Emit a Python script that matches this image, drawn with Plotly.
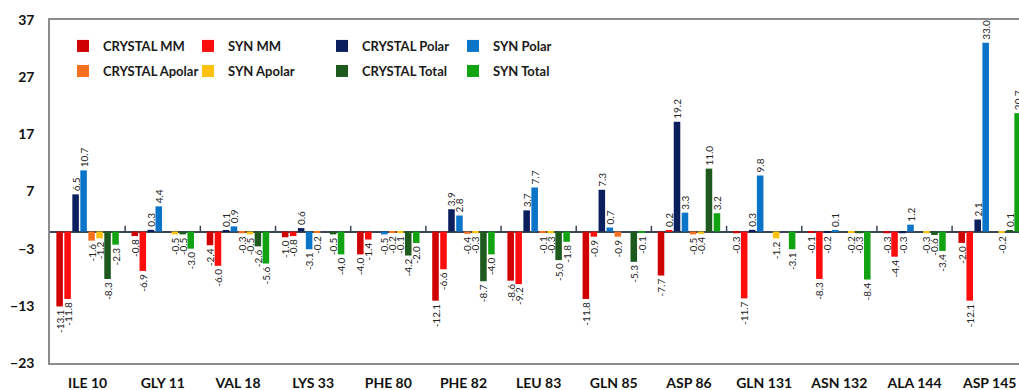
import plotly.graph_objects as go

# Residues along the category axis
categories = ["ILE 10", "GLY 11", "VAL 18", "LYS 33", "PHE 80", "PHE 82", "LEU 83",
              "GLN 85", "ASP 86", "GLN 131", "ASN 132", "ALA 144", "ASP 145"]

# Energy contributions per residue (kcal/mol)
crystal_mm = [-13.1, -0.8, -2.4, -1.0, -4.0, -12.1, -8.6, -11.8, -7.7, -0.3, -0.1, -0.3, -2.0]
syn_mm = [-11.8, -6.9, -6.0, -0.8, -1.4, -6.6, -9.2, -0.9, 0.2, -11.7, -8.3, -4.4, -12.1]
crystal_polar = [6.5, 0.3, 0.1, 0.6, 0.0, 3.9, 3.7, 7.3, 19.2, 0.3, -0.2, -0.3, 2.1]
syn_polar = [10.7, 4.4, 0.9, -3.1, -0.5, 2.8, 7.7, 0.7, 3.3, 9.8, 0.1, 1.2, 33.0]
crystal_apolar = [-1.6, 0.0, -0.3, -0.2, -0.2, -0.4, -0.1, -0.9, -0.5, 0.0, 0.0, 0.0, 0.0]
syn_apolar = [-1.2, -0.5, -0.5, 0.0, -0.1, -0.3, -0.3, 0.0, -0.4, -1.2, -0.2, -0.3, -0.2]
crystal_total = [-8.3, -0.5, -2.6, -0.5, -4.2, -8.7, -5.0, -5.3, 11.0, 0.0, -0.3, -0.6, 0.1]
syn_total = [-2.3, -3.0, -5.6, -4.0, -2.0, -4.0, -1.8, -0.1, 3.2, -3.1, -8.4, -3.4, 20.7]

series_names = ["CRYSTAL MM", "SYN MM", "CRYSTAL Polar", "SYN Polar",
                "CRYSTAL Apolar", "SYN Apolar", "CRYSTAL Total", "SYN Total"]
series_values = [crystal_mm, syn_mm, crystal_polar, syn_polar,
                 crystal_apolar, syn_apolar, crystal_total, syn_total]
series_colors = ["#D00000", "#FF0D0D", "#0A1F5C", "#0A74C8",
                 "#F7701E", "#FFC20E", "#1E5A1E", "#12A312"]

FONT = "Lato"

# Legend laid out as a 4 x 2 grid: one single-entry legend per series
legend_cols = [0.0134, 0.1424, 0.2807, 0.4159]
legend_rows = [0.968, 0.895]

fig = go.Figure()
legend_layout = {}
for k, (name, vals, color) in enumerate(zip(series_names, series_values, series_colors)):
    leg_id = "legend" if k == 0 else f"legend{k + 1}"
    fig.add_trace(go.Bar(
        name=name,
        x=categories,
        y=vals,
        marker=dict(color=color, line=dict(width=0)),
        text=[f"{v:.1f}" if v != 0 else "" for v in vals],
        textposition="outside",
        textangle=-90,
        constraintext="none",
        cliponaxis=True,
        textfont=dict(family=FONT, size=10, color="#222222"),
        legend=leg_id,
    ))
    legend_layout[leg_id] = dict(
        x=legend_cols[k % 4],
        y=legend_rows[k // 4],
        xanchor="left",
        yanchor="top",
        orientation="h",
        itemwidth=30,
        bgcolor="rgba(0,0,0,0)",
        font=dict(family=FONT, size=13, color="#1a1a1a", weight="bold"),
    )

y_min, y_max = -23, 37

# Small marks on the zero line between residue groups
shapes = []
for i in range(len(categories) - 1):
    shapes.append(dict(type="line", xref="x", yref="y",
                       x0=i + 0.5, x1=i + 0.5, y0=0, y1=1.0,
                       line=dict(color="#3A4656", width=1.5)))

fig.update_layout(
    width=1019,
    height=390,
    margin=dict(l=50, r=0, t=20, b=27),
    paper_bgcolor="white",
    plot_bgcolor="white",
    barmode="group",
    bargap=0.15,
    bargroupgap=0.18,
    shapes=shapes,
    xaxis=dict(
        range=[-0.5, 12.39],
        showgrid=False,
        showline=True,
        linecolor="#8C8C8C",
        linewidth=1.5,
        mirror=True,
        ticks="",
        tickfont=dict(family=FONT, size=14, color="#111111", weight="bold"),
        ticklabelstandoff=6,
    ),
    yaxis=dict(
        range=[y_min, y_max],
        tick0=y_min,
        dtick=10,
        showgrid=False,
        showline=True,
        linecolor="#8C8C8C",
        linewidth=1.5,
        zeroline=True,
        zerolinecolor="#3A4656",
        zerolinewidth=1.5,
        ticks="",
        tickfont=dict(family=FONT, size=14, color="#111111", weight="bold"),
        ticklabelstandoff=11,
    ),
    showlegend=True,
    **legend_layout,
)

fig.write_html("out.html")
